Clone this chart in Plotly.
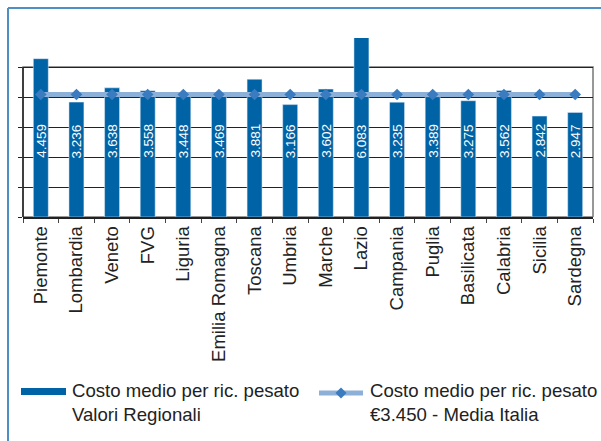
import plotly.graph_objects as go

regions = ["Piemonte", "Lombardia", "Veneto", "FVG", "Liguria", "Emilia Romagna",
           "Toscana", "Umbria", "Marche", "Lazio", "Campania", "Puglia",
           "Basilicata", "Calabria", "Sicilia", "Sardegna"]
values = [4.459, 3.236, 3.638, 3.558, 3.448, 3.469, 3.881, 3.166, 3.602, 6.083,
          3.235, 3.389, 3.275, 3.562, 2.842, 2.947]
labels = ["4.459", "3.236", "3.638", "3.558", "3.448", "3.469", "3.881", "3.166",
          "3.602", "6.083", "3.235", "3.389", "3.275", "3.562", "2.842", "2.947"]
media_italia = 3.450
grid_vals = [0, 0.845, 1.69, 2.535, 3.38, 4.225]
y_max = 5.042
label_y = 2.14

W, H = 601, 441
ML, MR, MT, MB = 23, 8, 38, 224
PW = W - ML - MR
PH = H - MT - MB

def px(x):
    return (x - ML) / PW

def py(y):
    return (H - MB - y) / PH

BAR = "#0063a6"
LINE = "#8db0d8"
MARK = "#3a7cbf"
FONT = "Liberation Sans, Arial, sans-serif"

fig = go.Figure()
fig.add_trace(go.Bar(x=regions, y=values, marker_color=BAR, width=0.42,
                     hoverinfo="skip"))
fig.add_trace(go.Scatter(x=regions, y=[media_italia] * len(regions), mode="lines+markers",
                         line=dict(color=LINE, width=5),
                         marker=dict(symbol="diamond", size=9, color=MARK)))

ann = []
for r, t in zip(regions, labels):
    ann.append(dict(x=r, y=label_y, text=t, textangle=-90, showarrow=False,
                    font=dict(color="white", size=13.5, family=FONT)))

ann.append(dict(x=px(70), y=py(402), xref="paper", yref="paper", xanchor="left",
                yanchor="middle", align="left", showarrow=False,
                text="Costo medio per ric. pesato<br>Valori Regionali",
                font=dict(size=18.6, color="#222", family=FONT)))
ann.append(dict(x=px(368), y=py(402), xref="paper", yref="paper", xanchor="left",
                yanchor="middle", align="left", showarrow=False,
                text="Costo medio per ric. pesato<br>€3.450 - Media Italia",
                font=dict(size=18.6, color="#222", family=FONT)))

dx, dy = 5.5, 5.5
cx, cy = 341, 393
diamond = "M {} {} L {} {} L {} {} L {} {} Z".format(
    px(cx), py(cy - dy), px(cx + dx), py(cy), px(cx), py(cy + dy), px(cx - dx), py(cy))

shapes = [
    dict(type="rect", xref="paper", yref="y", x0=0, x1=1, y0=0, y1=grid_vals[-1],
         line=dict(color="#777", width=1.5), layer="below"),
    dict(type="line", xref="paper", yref="y", x0=0, x1=0, y0=0, y1=grid_vals[-1],
         line=dict(color="#222", width=1.5), layer="below"),
    dict(type="line", xref="paper", yref="paper", x0=px(8), x1=px(601), y0=py(8), y1=py(8),
         line=dict(color="#4f8fc2", width=2)),
    dict(type="line", xref="paper", yref="paper", x0=px(8), x1=px(8), y0=py(8), y1=py(441),
         line=dict(color="#4f8fc2", width=2)),
    dict(type="rect", xref="paper", yref="paper", x0=px(21), x1=px(66), y0=py(388), y1=py(395),
         fillcolor=BAR, line=dict(width=0)),
    dict(type="line", xref="paper", yref="paper", x0=px(319), x1=px(363), y0=py(393), y1=py(393),
         line=dict(color=LINE, width=5)),
    dict(type="path", xref="paper", yref="paper", path=diamond, fillcolor=MARK,
         line=dict(width=0)),
]

fig.update_layout(
    width=W, height=H, margin=dict(l=ML, r=MR, t=MT, b=MB),
    paper_bgcolor="white", plot_bgcolor="white", showlegend=False,
    font=dict(family=FONT, color="#222"),
    annotations=ann, shapes=shapes,
    xaxis=dict(showline=True, linecolor="#222", linewidth=1.5, ticks="outside",
               tickson="boundaries", ticklen=4, tickcolor="#444", tickangle=-90,
               tickfont=dict(size=18.5, color="#222", family=FONT), showgrid=False,
               range=[-0.5, len(regions) - 0.5]),
    yaxis=dict(range=[0, y_max], tickvals=grid_vals, showticklabels=False,
               ticks="outside", ticklen=4, tickcolor="#222", showgrid=True,
               gridcolor="#222", gridwidth=1, zeroline=False, showline=False),
)

fig.write_html("out.html", config={"displayModeBar": False},
               post_script="document.body.style.margin='0';")
